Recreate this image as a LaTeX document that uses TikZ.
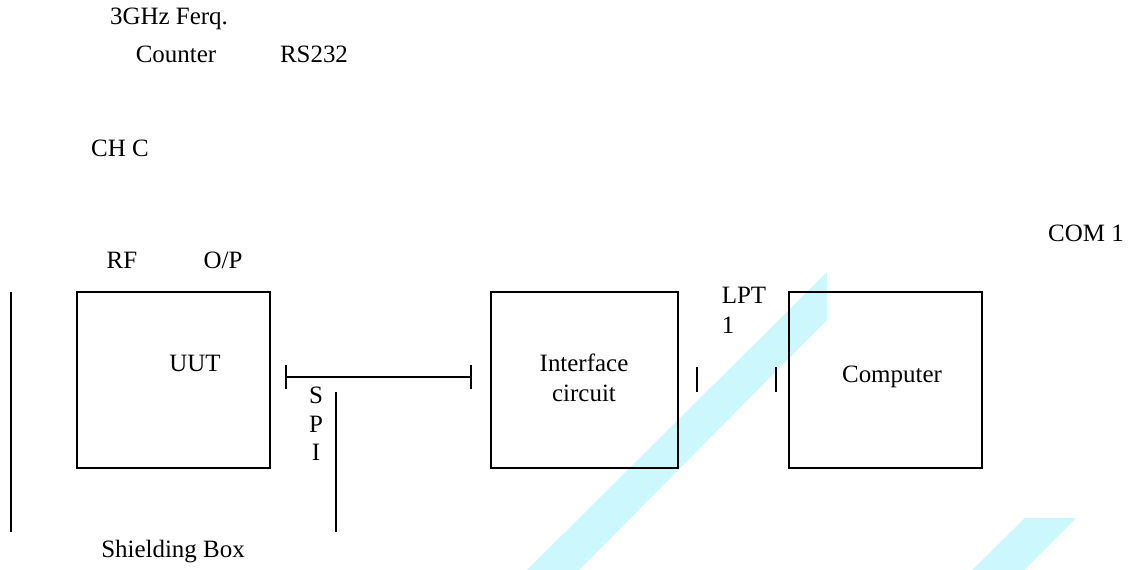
\documentclass[tikz,border=0pt]{standalone}
\usepackage{fontspec}
\setmainfont{Liberation Serif}
\usepackage{tikz}
\usetikzlibrary{shapes, arrows.meta, positioning}
\definecolor{wcyan}{RGB}{204,247,252}
\tikzstyle{box} = [rectangle, draw, line width=1.4pt, minimum height=3.52cm, inner sep=0pt]
\tikzstyle{txt} = [inner sep=0pt, font=\fontsize{14.2}{17}\selectfont, align=center]
\tikzstyle{line} = [draw, line width=1.4pt]
\tikzstyle{bus} = [draw, line width=1.4pt, {Bar[width=13.6pt]}-{Bar[width=13.6pt]}]
\tikzstyle{wmark} = [fill=wcyan]

\begin{document}
\begin{tikzpicture}[x=0.02cm, y=-0.02cm]
    \useasboundingbox (0,0) rectangle (1137,570);
    % watermark stripes
    \fill[wmark] (827,272) -- (527,570) -- (579,570) -- (827,320) -- cycle;
    \fill[wmark] (1025,518) -- (1076,518) -- (1024,570) -- (972,570) -- cycle;

    \node[box, minimum width=3.86cm](uut) at (173.5,380){};
    \node[box, minimum width=3.74cm](iface) at (584.5,380){};
    \node[box, minimum width=3.86cm](pc) at (885.5,380){};

    \node[txt](uutname) at (195,363){UUT};
    \node[txt](iftext) at (584,378){Interface\\circuit};
    \node[txt](pcname) at (892,377){Computer};

    \node[txt](freq) at (169,19){3GHz Ferq.};
    \node[txt](counter) at (176,54){Counter};
    \node[txt](rs) at (314,54){RS232};
    \node[txt](chc) at (120,148){CH C};
    \node[txt](com) at (1086,233){COM 1};
    \node[txt](rf) at (122,260){RF};
    \node[txt](op) at (223,260){O/P};
    \node[txt](shield) at (173,552){Shielding Box};
    \node[txt, font=\fontsize{14.2}{16.3}\selectfont](spi) at (316,424){S\\P\\I};
    \node[txt, align=left](lpt) at (744,310){LPT\\1};

    % shielding wall and SPI bus
    \coordinate (wallT) at (11,292);
    \coordinate (wallB) at (11,532);
    \coordinate (spiT) at (336,392);
    \coordinate (spiB) at (336,532);
    \coordinate (spiL) at (285,377);
    \coordinate (spiR) at (472,377);
    \path[line] (wallT) -- (wallB);
    \path[line] (spiT) -- (spiB);
    \path[bus] (spiL) -- (spiR);

    % LPT port ends
    \coordinate (lptA) at (697,367);
    \coordinate (lptB) at (697,392);
    \coordinate (lptC) at (776,367);
    \coordinate (lptD) at (776,392);
    \path[line] (lptA) -- (lptB);
    \path[line] (lptC) -- (lptD);
\end{tikzpicture}
\end{document}
